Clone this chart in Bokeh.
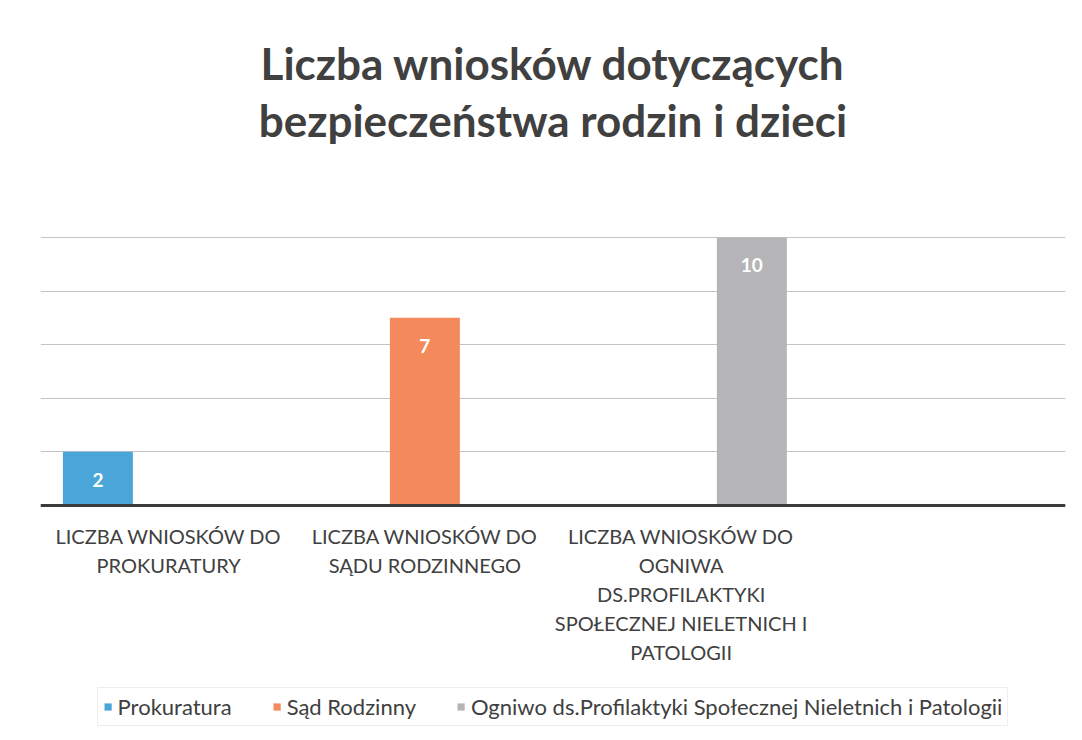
from bokeh.plotting import figure
from bokeh.models import (ColumnDataSource, Range1d, FixedTicker, Legend, LegendItem, Span)
from bokeh.core.properties import value
from bokeh.transform import dodge
from bokeh.embed import file_html
from bokeh.resources import INLINE

# ---- data ----
categories = ["LICZBA WNIOSKÓW DO\nPROKURATURY",
              "LICZBA WNIOSKÓW DO\nSĄDU RODZINNEGO",
              "LICZBA WNIOSKÓW DO\nOGNIWA\nDS.PROFILAKTYKI\nSPOŁECZNEJ NIELETNICH I\nPATOLOGII",
              ""]
series_names = ["Prokuratura", "Sąd Rodzinny",
                "Ogniwo ds.Profilaktyki Społecznej Nieletnich i Patologii"]
prokuratura = [2, 0, 0, 0]
sad_rodzinny = [0, 7, 0, 0]
ogniwo = [0, 0, 10, 0]
y_ticks = [0, 2, 4, 6, 8, 10]
title_text = "Liczba wniosków dotyczących\nbezpieczeństwa rodzin i dzieci"

colors = ["#4aa5d9", "#f4895b", "#b5b5b7"]
series_values = [prokuratura, sad_rodzinny, ogniwo]
FONT = "Lato"

xc = [i + 0.5 for i in range(len(categories))]

x_range = Range1d(0, len(categories))
y_range = Range1d(-8.47, 18.84)   # frame covers whole figure; 0..10 is the value area

p = figure(width=1074, height=732, x_range=x_range, y_range=y_range,
           output_backend="svg", toolbar_location=None,
           min_border_left=40, min_border_right=9, min_border_top=0,
           min_border_bottom=0)
p.outline_line_color = None
p.background_fill_color = "white"
p.border_fill_color = "white"
p.xaxis.visible = False
p.yaxis.visible = False

# grid
p.ygrid.ticker = FixedTicker(ticks=y_ticks)
p.ygrid.grid_line_color = "#c4c4c4"
p.ygrid.grid_line_width = 1
p.xgrid.grid_line_color = None

bar_w = 0.273
offsets = [-0.276, 0.0, 0.276]
items = []
for name, vals, col, off in zip(series_names, series_values, colors, offsets):
    src = ColumnDataSource(dict(x=xc, y=vals, lbl=[str(v) if v else "" for v in vals]))
    r = p.vbar(x=dodge("x", off, range=p.x_range), top="y", width=bar_w, source=src,
               fill_color=col, line_color=None)
    items.append(LegendItem(label=name, renderers=[r]))
    p.text(x=dodge("x", off, range=p.x_range), y="y", text="lbl", source=src,
           text_color="white", text_font=value(FONT), text_font_style="bold",
           text_font_size="19px", text_align="center", text_baseline="middle",
           y_offset=28)

# baseline (category axis line)
p.add_layout(Span(location=0, dimension="width", line_color="#3a3a3a", line_width=3))

# category labels under the baseline
cat_src = ColumnDataSource(dict(x=xc, y=[0] * len(xc), t=categories))
p.text(x="x", y="y", text="t", source=cat_src, text_font=value(FONT),
       text_font_size="20px", text_color="#404040", text_align="center",
       text_baseline="top", text_line_height=1.2, y_offset=19)

# chart title, anchored at the top centre of the figure
p.text(x=[(x_range.start + x_range.end) / 2], y=[y_range.end], text=[title_text],
       text_font=value(FONT), text_font_size="44px", text_font_style="bold",
       text_color="#404040", text_align="center", text_baseline="middle",
       text_line_height=1.107, y_offset=91)

legend = Legend(items=items, orientation="horizontal", location="bottom_center",
                label_text_font=FONT, label_text_font_size="22px",
                label_text_color="#404040", glyph_width=9, glyph_height=9,
                spacing=40, label_standoff=6, border_line_color="#dcdcdc",
                background_fill_color="white", padding=5, margin=6)
p.add_layout(legend)

open("out.html", "w").write(file_html(p, INLINE))
